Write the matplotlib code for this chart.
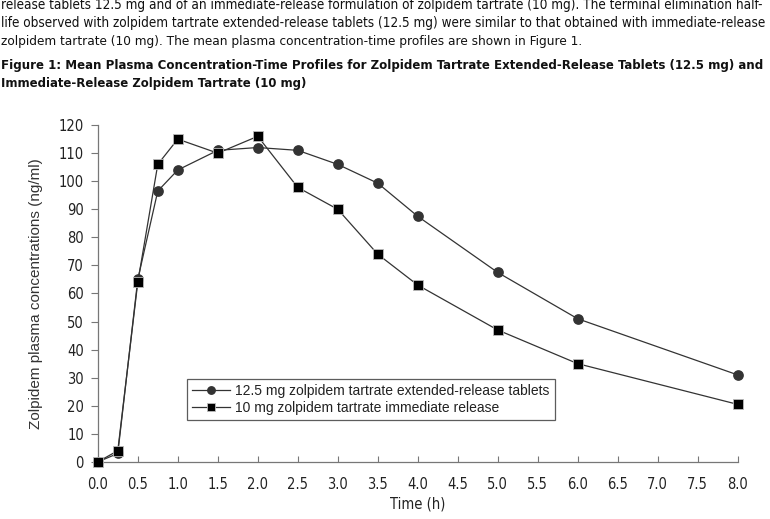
import matplotlib.pyplot as plt

# data
time_h = [0, 0.25, 0.5, 0.75, 1.0, 1.5, 2.0, 2.5, 3.0, 3.5, 4.0, 5.0, 6.0, 8.0]
er_conc = [0, 3, 65, 96.5, 104, 111, 112, 111, 106, 99.3, 87.5, 67.5, 51, 31]
ir_conc = [0, 4, 64, 106, 115, 110, 116, 97.8, 90, 74, 63, 47, 35, 20.5]
er_label = "12.5 mg zolpidem tartrate extended-release tablets"
ir_label = "10 mg zolpidem tartrate immediate release"
x_ticks = [i * 0.5 for i in range(17)]
y_ticks = list(range(0, 121, 10))

para = [
    "release tablets 12.5 mg and of an immediate-release formulation of zolpidem tartrate (10 mg). The terminal elimination half-",
    "life observed with zolpidem tartrate extended-release tablets (12.5 mg) were similar to that obtained with immediate-release",
    "zolpidem tartrate (10 mg). The mean plasma concentration-time profiles are shown in Figure 1.",
]
caption = [
    "Figure 1: Mean Plasma Concentration-Time Profiles for Zolpidem Tartrate Extended-Release Tablets (12.5 mg) and",
    "Immediate-Release Zolpidem Tartrate (10 mg)",
]

plt.rcParams["font.family"] = ["Liberation Sans", "DejaVu Sans"]
cond = dict(family=["DejaVu Sans"], stretch="condensed")

fig = plt.figure(figsize=(7.7, 5.19), dpi=100)
ax = fig.add_axes([0.127, 0.110, 0.831, 0.649])

ax.plot(time_h, er_conc, color="#333333", lw=0.9, marker="o", ms=6.7,
        mfc="#333333", mec="#333333", label=er_label, zorder=3, clip_on=False)
ax.plot(time_h, ir_conc, color="#333333", lw=0.9, marker="s", ms=6.7,
        mfc="black", mec="#bbbbbb", mew=0.6, label=ir_label, zorder=3, clip_on=False)

ax.set_xlim(0, 8)
ax.set_ylim(0, 120)
ax.set_xticks(x_ticks)
ax.set_xticklabels([f"{t:.1f}" for t in x_ticks], fontsize=10.5, **cond)
ax.set_yticks(y_ticks)
ax.set_yticklabels([str(v) for v in y_ticks], fontsize=10.5, **cond)
ax.tick_params(width=0.8, color="#777777", colors="#222222")
ax.tick_params(axis="x", direction="in", length=4, pad=11)
ax.tick_params(axis="y", direction="out", length=5, pad=5)
for s in ["top", "right"]:
    ax.spines[s].set_visible(False)
for s in ["left", "bottom"]:
    ax.spines[s].set_color("#777777")
    ax.spines[s].set_linewidth(0.9)

ax.set_xlabel("Time (h)", fontsize=10.5, color="#222222", labelpad=3, **cond)
ax.set_ylabel("Zolpidem plasma concentrations (ng/ml)", fontsize=11, color="#333333", labelpad=11)

leg = ax.legend(loc="lower left", bbox_to_anchor=(0.139, 0.125), fontsize=10.0,
                frameon=True, fancybox=False, edgecolor="#333333", borderpad=0.35,
                labelspacing=0.2, handlelength=2.8, handletextpad=0.35, borderaxespad=0,
                markerscale=0.8)
leg.get_frame().set_linewidth(0.9)
for t in leg.get_texts():
    t.set_color("#222222")

renderer = fig.canvas.get_renderer()
W = fig.bbox.width


def text_width(s, **kw):
    t = fig.text(0, 0, s, **kw)
    w = t.get_window_extent(renderer).width
    t.remove()
    return w


def put_block(lines, ytop, base, **kw):
    # justified look: every line but the last is sized to span the page width
    for i, line in enumerate(lines):
        size = base
        if i < len(lines) - 1:
            size = base * (W - 3) / text_width(line, fontsize=base, **kw)
        fig.text(1 / W, 1 - (ytop + i * 18) / 519, line, fontsize=size,
                 va="center", ha="left", color="#111111", **kw)


put_block(para, 5.5, 9.7, **cond)
put_block(caption, 66, 9.35, weight="bold", **cond)

fig.savefig("out.png", dpi=100)
